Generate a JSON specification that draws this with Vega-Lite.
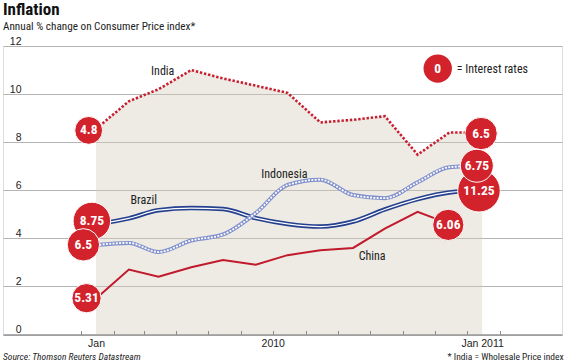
{
  "$schema": "https://vega.github.io/schema/vega-lite/v6.json",
  "width": 559,
  "height": 288.5,
  "autosize": "none",
  "padding": {"left": 3, "top": 46, "right": 7, "bottom": 28.5},
  "background": "white",
  "resolve": {"axis": {"x": "independent"}},
  "title": {
    "text": "Inflation",
    "subtitle": "Annual % change on Consumer Price index*",
    "anchor": "start",
    "frame": "bounds",
    "font": "Roboto Condensed, Liberation Sans Narrow, Liberation Sans, sans-serif",
    "fontSize": 17,
    "fontWeight": "bold",
    "color": "#111111",
    "subtitleFont": "Roboto Condensed, Liberation Sans Narrow, Liberation Sans, sans-serif",
    "subtitleFontSize": 11.2,
    "subtitleColor": "#222222",
    "subtitlePadding": 2,
    "offset": 3
  },
  "datasets": {
    "series": [
      {"country": "India", "date": "2010-01-15", "value": 8.55},
      {"country": "India", "date": "2010-02-15", "value": 9.7},
      {"country": "India", "date": "2010-03-15", "value": 10.2},
      {"country": "India", "date": "2010-04-15", "value": 11.0},
      {"country": "India", "date": "2010-05-15", "value": 10.65},
      {"country": "India", "date": "2010-06-15", "value": 10.35},
      {"country": "India", "date": "2010-07-15", "value": 10.05},
      {"country": "India", "date": "2010-08-15", "value": 8.82},
      {"country": "India", "date": "2010-09-15", "value": 8.93},
      {"country": "India", "date": "2010-10-15", "value": 9.08},
      {"country": "India", "date": "2010-11-15", "value": 7.48},
      {"country": "India", "date": "2010-12-15", "value": 8.4},
      {"country": "India", "date": "2011-01-15", "value": 8.4},
      {"country": "Brazil", "date": "2010-01-15", "value": 4.59},
      {"country": "Brazil", "date": "2010-02-15", "value": 4.83},
      {"country": "Brazil", "date": "2010-03-15", "value": 5.17},
      {"country": "Brazil", "date": "2010-04-15", "value": 5.26},
      {"country": "Brazil", "date": "2010-05-15", "value": 5.22},
      {"country": "Brazil", "date": "2010-06-15", "value": 4.84},
      {"country": "Brazil", "date": "2010-07-15", "value": 4.6},
      {"country": "Brazil", "date": "2010-08-15", "value": 4.49},
      {"country": "Brazil", "date": "2010-09-15", "value": 4.7},
      {"country": "Brazil", "date": "2010-10-15", "value": 5.2},
      {"country": "Brazil", "date": "2010-11-15", "value": 5.63},
      {"country": "Brazil", "date": "2010-12-15", "value": 5.91},
      {"country": "Brazil", "date": "2011-01-15", "value": 5.99},
      {"country": "Indonesia", "date": "2010-01-15", "value": 3.72},
      {"country": "Indonesia", "date": "2010-02-15", "value": 3.81},
      {"country": "Indonesia", "date": "2010-03-15", "value": 3.43},
      {"country": "Indonesia", "date": "2010-04-15", "value": 3.91},
      {"country": "Indonesia", "date": "2010-05-15", "value": 4.16},
      {"country": "Indonesia", "date": "2010-06-15", "value": 5.05},
      {"country": "Indonesia", "date": "2010-07-15", "value": 6.22},
      {"country": "Indonesia", "date": "2010-08-15", "value": 6.44},
      {"country": "Indonesia", "date": "2010-09-15", "value": 5.8},
      {"country": "Indonesia", "date": "2010-10-15", "value": 5.67},
      {"country": "Indonesia", "date": "2010-11-15", "value": 6.33},
      {"country": "Indonesia", "date": "2010-12-15", "value": 6.96},
      {"country": "Indonesia", "date": "2011-01-15", "value": 7.02},
      {"country": "China", "date": "2010-01-15", "value": 1.5},
      {"country": "China", "date": "2010-02-15", "value": 2.7},
      {"country": "China", "date": "2010-03-15", "value": 2.4},
      {"country": "China", "date": "2010-04-15", "value": 2.8},
      {"country": "China", "date": "2010-05-15", "value": 3.1},
      {"country": "China", "date": "2010-06-15", "value": 2.9},
      {"country": "China", "date": "2010-07-15", "value": 3.3},
      {"country": "China", "date": "2010-08-15", "value": 3.5},
      {"country": "China", "date": "2010-09-15", "value": 3.6},
      {"country": "China", "date": "2010-10-15", "value": 4.4},
      {"country": "China", "date": "2010-11-15", "value": 5.1},
      {"country": "China", "date": "2010-12-15", "value": 4.6}
    ],
    "bubbles": [
      {"country": "China", "date": "2010-01-06", "value": 1.51, "rate": 5.31},
      {"country": "India", "date": "2010-01-08", "value": 8.49, "rate": 4.8},
      {"country": "Brazil", "date": "2010-01-11", "value": 4.72, "rate": 8.75},
      {"country": "Indonesia", "date": "2010-01-03", "value": 3.73, "rate": 6.5},
      {"country": "China", "date": "2010-12-14", "value": 4.56, "rate": 6.06},
      {"country": "India", "date": "2011-01-14", "value": 8.36, "rate": 6.5},
      {"country": "Brazil", "date": "2011-01-12", "value": 5.98, "rate": 11.25},
      {"country": "Indonesia", "date": "2011-01-10", "value": 7.02, "rate": 6.75}
    ],
    "labels": [
      {"label": "India", "date": "2010-03-19", "value": 10.98},
      {"label": "Brazil", "date": "2010-03-01", "value": 5.6},
      {"label": "Indonesia", "date": "2010-07-12", "value": 6.69},
      {"label": "China", "date": "2010-10-03", "value": 3.27}
    ],
    "legend": [
      {"date": "2010-12-04", "value": 11.06, "label": "0", "note": "= Interest rates", "notedate": "2010-12-22"}
    ],
    "notes": [
      {"date": "2009-10-19", "value": -1.07, "label": "Source: Thomson Reuters Datastream", "side": "left"},
      {"date": "2011-04-02", "value": -1.07, "label": "* India = Wholesale Price index", "side": "right"}
    ]
  },
  "layer": [
    {
      "data": {"name": "series"},
      "transform": [{"filter": "datum.country == 'India'"}],
      "mark": {"type": "area", "color": "#d2cdbb", "opacity": 0.4},
      "encoding": {
        "x": {
          "field": "date", "type": "temporal",
          "scale": {"type": "utc", "domain": [{"year": 2009, "month": 10, "date": 19, "utc": true}, {"year": 2011, "month": 3, "date": 31, "hours": 12, "utc": true}]},
          "axis": {
            "orient": "bottom",
            "offset": -4,
            "zindex": 1,
            "title": null,
            "grid": false,
            "domain": false,
            "tickColor": "#8a8a8a",
            "tickWidth": 1,
            "tickSize": 4,
            "labels": false,
            "values": [
              {"year": 2010, "month": 1, "date": 1, "utc": true},
              {"year": 2010, "month": 2, "date": 1, "utc": true},
              {"year": 2010, "month": 3, "date": 1, "utc": true},
              {"year": 2010, "month": 4, "date": 1, "utc": true},
              {"year": 2010, "month": 5, "date": 1, "utc": true},
              {"year": 2010, "month": 6, "date": 1, "utc": true},
              {"year": 2010, "month": 7, "date": 1, "utc": true},
              {"year": 2010, "month": 8, "date": 1, "utc": true},
              {"year": 2010, "month": 9, "date": 1, "utc": true},
              {"year": 2010, "month": 10, "date": 1, "utc": true},
              {"year": 2010, "month": 11, "date": 1, "utc": true},
              {"year": 2010, "month": 12, "date": 1, "utc": true},
              {"year": 2011, "month": 1, "date": 1, "utc": true},
              {"year": 2011, "month": 2, "date": 1, "utc": true}
            ]
          }
        },
        "y": {
          "field": "value", "type": "quantitative",
          "scale": {"domain": [0, 12], "nice": false, "zero": false},
          "axis": {
            "title": null,
            "values": [0, 2, 4, 6, 8, 10, 12],
            "grid": true,
            "gridColor": "#b4b4b4",
            "gridWidth": 1,
            "domain": false,
            "ticks": false,
            "labelAlign": "right",
            "labelBaseline": "bottom",
            "labelPadding": -18,
            "labelFont": "Liberation Sans",
            "labelFontSize": 10.5,
            "labelColor": "#222222"
          }
        }
      }
    },
    {
      "data": {"name": "series"},
      "transform": [{"filter": "datum.country == 'Brazil'"}],
      "mark": {"type": "line", "color": "#24408f", "strokeWidth": 4.5, "interpolate": "monotone"},
      "encoding": {
        "x": {
          "field": "date", "type": "temporal",
          "axis": {
            "orient": "bottom",
            "zindex": 1,
            "title": null,
            "grid": false,
            "domain": true,
            "domainColor": "#999999",
            "domainWidth": 1.4,
            "ticks": false,
            "labelPadding": 4,
            "labelFont": "Liberation Sans",
            "labelFontSize": 10.5,
            "labelColor": "#222222",
            "labelOverlap": false,
            "labelFlush": false,
            "labelExpr": "utcmonth(datum.value) == 6 ? '2010' : (utcyear(datum.value) == 2010 ? 'Jan' : 'Jan 2011')",
            "values": [
              {"year": 2010, "month": 1, "date": 15, "utc": true},
              {"year": 2010, "month": 7, "date": 1, "utc": true},
              {"year": 2011, "month": 1, "date": 15, "utc": true}
            ]
          }
        },
        "y": {"field": "value", "type": "quantitative"}
      }
    },
    {
      "data": {"name": "series"},
      "transform": [{"filter": "datum.country == 'Brazil'"}],
      "mark": {"type": "line", "color": "#ffffff", "strokeWidth": 1.2, "interpolate": "monotone"},
      "encoding": {"x": {"field": "date", "type": "temporal", "axis": null}, "y": {"field": "value", "type": "quantitative"}}
    },
    {
      "data": {"name": "series"},
      "transform": [{"filter": "datum.country == 'Indonesia'"}],
      "mark": {"type": "line", "color": "#8190cc", "strokeWidth": 4, "interpolate": "monotone"},
      "encoding": {"x": {"field": "date", "type": "temporal", "axis": null}, "y": {"field": "value", "type": "quantitative"}}
    },
    {
      "data": {"name": "series"},
      "transform": [{"filter": "datum.country == 'Indonesia'"}],
      "mark": {"type": "line", "color": "#ffffff", "strokeWidth": 1.8, "strokeDash": [2, 1.3], "interpolate": "monotone"},
      "encoding": {"x": {"field": "date", "type": "temporal", "axis": null}, "y": {"field": "value", "type": "quantitative"}}
    },
    {
      "data": {"name": "series"},
      "transform": [{"filter": "datum.country == 'India'"}],
      "mark": {"type": "line", "color": "#c81f30", "strokeWidth": 2.6, "strokeDash": [2.4, 1.8]},
      "encoding": {"x": {"field": "date", "type": "temporal", "axis": null}, "y": {"field": "value", "type": "quantitative"}}
    },
    {
      "data": {"name": "series"},
      "transform": [{"filter": "datum.country == 'China'"}],
      "mark": {"type": "line", "color": "#c01a2c", "strokeWidth": 2},
      "encoding": {"x": {"field": "date", "type": "temporal", "axis": null}, "y": {"field": "value", "type": "quantitative"}}
    },
    {
      "data": {"name": "bubbles"},
      "mark": {"type": "circle", "color": "#d2232c", "opacity": 1, "stroke": "#ffffff", "strokeWidth": 1},
      "encoding": {
        "x": {"field": "date", "type": "temporal", "axis": null},
        "y": {"field": "value", "type": "quantitative"},
        "size": {"field": "rate", "type": "quantitative", "legend": null, "scale": {"type": "linear", "zero": false, "domain": [4.8, 11.25], "range": [774, 1810]}}
      }
    },
    {
      "data": {"name": "bubbles"},
      "mark": {"type": "text", "color": "#ffffff", "font": "Roboto Condensed, Liberation Sans Narrow, Liberation Sans, sans-serif", "fontSize": 13.5, "fontWeight": "bold", "align": "center", "baseline": "middle"},
      "encoding": {
        "x": {"field": "date", "type": "temporal", "axis": null},
        "y": {"field": "value", "type": "quantitative"},
        "text": {"field": "rate", "type": "nominal"}
      }
    },
    {
      "data": {"name": "legend"},
      "mark": {"type": "circle", "color": "#d2232c", "opacity": 1, "size": 804},
      "encoding": {"x": {"field": "date", "type": "temporal", "axis": null}, "y": {"field": "value", "type": "quantitative"}}
    },
    {
      "data": {"name": "legend"},
      "mark": {"type": "text", "color": "#ffffff", "font": "Roboto Condensed, Liberation Sans Narrow, Liberation Sans, sans-serif", "fontSize": 13.5, "fontWeight": "bold", "align": "center", "baseline": "middle"},
      "encoding": {"x": {"field": "date", "type": "temporal", "axis": null}, "y": {"field": "value", "type": "quantitative"}, "text": {"field": "label"}}
    },
    {
      "data": {"name": "legend"},
      "mark": {"type": "text", "color": "#222222", "font": "Roboto Condensed, Liberation Sans Narrow, Liberation Sans, sans-serif", "fontSize": 12, "align": "left", "baseline": "middle"},
      "encoding": {"x": {"field": "notedate", "type": "temporal", "axis": null}, "y": {"field": "value", "type": "quantitative"}, "text": {"field": "note"}}
    },
    {
      "data": {"name": "labels"},
      "mark": {"type": "text", "color": "#222222", "font": "Roboto Condensed, Liberation Sans Narrow, Liberation Sans, sans-serif", "fontSize": 12, "align": "center", "baseline": "middle"},
      "encoding": {"x": {"field": "date", "type": "temporal", "axis": null}, "y": {"field": "value", "type": "quantitative"}, "text": {"field": "label"}}
    },
    {
      "data": {"name": "notes"},
      "transform": [{"filter": "datum.side == 'left'"}],
      "mark": {"type": "text", "color": "#222222", "font": "Roboto Condensed, Liberation Sans Narrow, Liberation Sans, sans-serif", "fontSize": 9.5, "fontStyle": "italic", "align": "left", "baseline": "alphabetic"},
      "encoding": {"x": {"field": "date", "type": "temporal", "axis": null}, "y": {"field": "value", "type": "quantitative"}, "text": {"field": "label"}}
    },
    {
      "data": {"name": "notes"},
      "transform": [{"filter": "datum.side == 'right'"}],
      "mark": {"type": "text", "color": "#222222", "font": "Roboto Condensed, Liberation Sans Narrow, Liberation Sans, sans-serif", "fontSize": 9.5, "align": "right", "baseline": "alphabetic"},
      "encoding": {"x": {"field": "date", "type": "temporal", "axis": null}, "y": {"field": "value", "type": "quantitative"}, "text": {"field": "label"}}
    }
  ]
}
